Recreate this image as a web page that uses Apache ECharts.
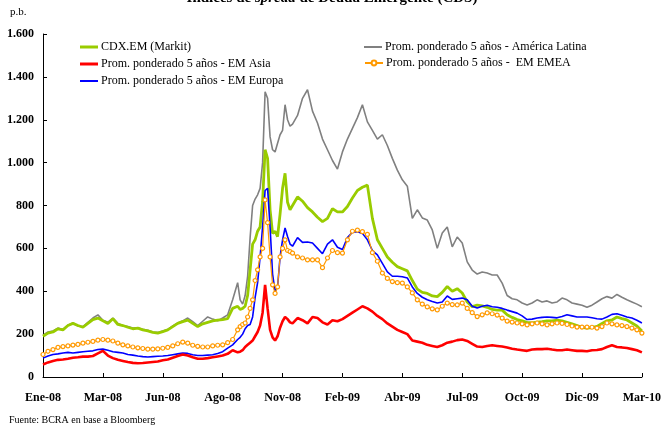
<!DOCTYPE html>
<html>
<head>
<meta charset="utf-8">
<script src="https://cdn.jsdelivr.net/npm/echarts@6/dist/echarts.min.js"></script>
<style>
  html, body { margin: 0; padding: 0; background: #fff; }
  #chart { width: 664px; height: 427px; }
</style>
</head>
<body>
<div id="chart"></div>
<script>
// etiquetas del eje X (una cada 12 posiciones)
const X_LABELS = ['Ene-08', 'Mar-08', 'Jun-08', 'Ago-08', 'Nov-08', 'Feb-09', 'Abr-09', 'Jul-09', 'Oct-09', 'Dic-09', 'Mar-10'];

// posiciones de muestreo (más densas durante el pico de oct-08)
const T = [
  0, 1, 2, 3, 4, 5, 6, 7, 8, 9, 10, 11, 12, 13, 14, 15, 16, 17, 18, 19,
  20, 21, 22, 23, 24, 25, 26, 27, 28, 29, 30, 31, 32, 33, 34, 35, 36, 37, 38, 39,
  39.5, 40, 40.5, 41, 41.5, 42, 42.5, 43, 43.5, 44, 44.5, 45, 45.5, 46, 46.5, 47, 47.5, 48, 48.5, 49, 49.5, 50,
  51, 52, 53, 54, 55, 56, 57, 58, 59, 60, 61, 62, 63, 64, 65, 66, 67, 68, 69, 70,
  71, 72, 73, 74, 75, 76, 77, 78, 79, 80, 81, 82, 83, 84, 85, 86, 87, 88, 89, 90,
  91, 92, 93, 94, 95, 96, 97, 98, 99, 100, 101, 102, 103, 104, 105, 106, 107, 108, 109, 110,
  111, 112, 113, 114, 115, 116, 117, 118, 119, 120
];

const CDX_EM = [
  190, 205, 210, 225, 220, 240, 250, 240, 232, 250, 268, 275, 262, 250, 272, 245, 240, 232, 225, 228,
  220, 215, 208, 205, 212, 220, 235, 250, 258, 265, 250, 235, 248, 255, 262, 265, 268, 272, 320, 330,
  315, 320, 330, 380, 500, 620, 640, 680, 700, 820, 1060, 1020, 780, 670, 680, 655, 760, 880, 950, 815, 780, 800,
  840, 820, 790, 770, 745, 725, 740, 785, 770, 770, 795, 835, 870, 885, 895, 740, 640, 600, 560, 535,
  515, 505, 495, 450, 410, 395, 390, 378, 375, 395, 422, 400, 412, 392, 350, 328, 335, 332, 325, 315,
  312, 312, 290, 278, 268, 262, 255, 252, 256, 258, 262, 262, 265, 262, 255, 248, 240, 232, 228, 230,
  236, 250, 262, 266, 280, 272, 266, 252, 238, 215
];

const AMERICA_LATINA = [
  195, 210, 215, 228, 222, 242, 252, 238, 235, 255, 275, 290, 265, 255, 275, 250, 240, 235, 228, 230,
  222, 218, 210, 208, 215, 222, 238, 252, 262, 275, 258, 240, 260, 280, 270, 262, 275, 290, 360, 440,
  360, 340, 380, 470, 650, 800, 830, 850, 880, 1000, 1330, 1300, 1120, 1060, 1050, 1090, 1130, 1150, 1270, 1200, 1170, 1180,
  1220, 1300, 1340, 1240, 1185, 1110, 1060, 1010, 970, 1050, 1110, 1160, 1210, 1270, 1190, 1150, 1110, 1130, 1080, 1020,
  965, 920, 890, 740, 780, 742, 732, 686, 600, 672, 700, 607, 653, 625, 537, 499, 480, 490, 485, 476,
  476, 438, 380, 365, 360, 345, 336, 345, 360, 350, 355, 345, 350, 368, 360, 345, 340, 335, 325, 335,
  350, 365, 375, 368, 385, 372, 360, 350, 340, 328
];

const EM_ASIA = [
  58, 68, 75, 80, 82, 85, 90, 92, 95, 95, 98, 110, 122, 100, 88, 80, 75, 70, 66, 64,
  65, 68, 70, 72, 78, 82, 90, 98, 105, 100, 92, 85, 85, 88, 92, 96, 100, 108, 125, 115,
  118, 125, 140, 150, 160, 170, 190, 210, 240, 300, 430, 320, 220, 185, 170, 190, 230, 260, 280, 270, 255, 250,
  275, 265, 250, 280, 275, 255, 245, 265, 260, 270, 285, 300, 315, 330, 320, 305, 285, 270, 250, 235,
  220, 210, 200, 170, 165, 160, 150, 145, 140, 148, 160, 165, 172, 175, 168, 155, 142, 140, 145, 148,
  145, 142, 138, 132, 128, 125, 122, 128, 130, 130, 132, 128, 125, 125, 128, 125, 122, 122, 120, 125,
  126, 130, 140, 148, 140, 138, 135, 130, 125, 115
];

const EM_EMEA = [
  105, 120, 128, 138, 142, 145, 149, 152, 158, 162, 166, 172, 175, 172, 168, 158, 150, 145, 140, 136,
  133, 130, 130, 131, 134, 138, 145, 155, 163, 158, 148, 143, 140, 140, 145, 148, 150, 160, 175, 220,
  235, 245, 252, 280, 320, 360, 450, 500, 560, 600, 826, 720, 560, 430, 390, 420, 560, 600, 640, 590, 585, 578,
  560, 555, 546, 546, 546, 510, 555, 590, 580, 578, 640, 680, 685, 678, 665, 580, 540, 485, 460, 445,
  440, 438, 420, 392, 360, 340, 327, 318, 313, 330, 345, 338, 336, 345, 320, 300, 282, 290, 299, 295,
  289, 275, 261, 256, 252, 248, 243, 248, 252, 248, 243, 248, 252, 250, 245, 238, 233, 233, 233, 232,
  228, 235, 252, 248, 243, 240, 235, 228, 220, 205
];

const EM_EUROPA = [
  88, 98, 105, 108, 112, 115, 112, 115, 118, 120, 122, 128, 130, 125, 118, 115, 112, 105, 102, 98,
  95, 93, 95, 97, 98, 100, 104, 108, 112, 110, 104, 100, 100, 102, 104, 110, 118, 135, 150, 175,
  185, 200, 225, 240, 245, 280, 370, 440, 560, 700, 870, 880, 700, 480, 400, 420, 560, 640, 695, 655, 620, 610,
  650, 628, 630, 625, 600, 575, 620, 640, 605, 595, 650, 675, 678, 670, 640, 590, 570, 530, 490, 470,
  470, 468, 462, 420, 390, 372, 360, 352, 345, 350, 378, 362, 365, 368, 360, 330, 322, 330, 335, 328,
  325, 320, 312, 305, 298, 285, 268, 270, 275, 278, 280, 278, 276, 282, 290, 285, 280, 280, 280, 276,
  272, 270, 280, 292, 295, 288, 280, 275, 265, 252
];

const NAMES = {
  cdx: 'CDX.EM (Markit)',
  latam: 'Prom. ponderado 5 años - América Latina',
  asia: 'Prom. ponderado 5 años - EM Asia',
  emea: 'Prom. ponderado 5 años -  EM EMEA',
  europa: 'Prom. ponderado 5 años - EM Europa'
};

const FONT = '"Liberation Serif", "DejaVu Serif", serif';

function pairs(vals) {
  return vals.map((v, k) => [T[k], v]);
}

function fmtMiles(v) {
  return String(v).replace(/\B(?=(\d{3})+(?!\d))/g, '.');
}

const chart = echarts.init(document.getElementById('chart'));

// leyenda: una caja por entrada; icono rect fino = línea simple
function legendAt(name, left, top, h, plain) {
  return {
    data: [name], left: left, top: top,
    orient: 'horizontal',
    icon: plain ? 'rect' : undefined,
    itemWidth: 18,
    itemHeight: h,
    padding: 0,
    textStyle: { fontFamily: FONT, fontSize: 12, color: '#000', padding: [0, 0, 0, -2] }
  };
}

chart.setOption({
  animation: false,
  backgroundColor: '#fff',
  title: {
    text: '{b|Índices de }{i|spread}{b| de Deuda Emergente (CDS)}',
    left: 'center',
    top: -9,
    padding: 0,
    textStyle: {
      rich: {
        b: { fontFamily: FONT, fontSize: 15, fontWeight: 'bold', color: '#000' },
        i: { fontFamily: FONT, fontSize: 15, fontWeight: 'bold', fontStyle: 'italic', color: '#000' }
      }
    }
  },
  graphic: [
    { type: 'text', left: 10, top: 7, style: { text: 'p.b.', font: '11px ' + FONT, fill: '#000' } },
    { type: 'text', left: 9, top: 415, style: { text: 'Fuente: BCRA en base a Bloomberg', font: '10px ' + FONT, fill: '#000' } }
  ],
  legend: [
    legendAt(NAMES.cdx, 80, 41, 3, true),
    legendAt(NAMES.asia, 80, 58, 3, true),
    legendAt(NAMES.europa, 80, 75, 2, true),
    legendAt(NAMES.latam, 364, 41, 2, true),
    legendAt(NAMES.emea, 364, 57, 6, false)
  ],
  grid: { left: 43, right: 17, top: 34, bottom: 50, containLabel: false },
  xAxis: {
    type: 'value',
    min: 0,
    max: 120,
    interval: 12,
    axisLine: { lineStyle: { color: '#000', width: 1 } },
    axisTick: { inside: true, length: 4, lineStyle: { color: '#000' } },
    splitLine: { show: false },
    axisLabel: {
      margin: 15,
      fontFamily: FONT,
      fontSize: 12,
      fontWeight: 'bold',
      color: '#000',
      formatter: v => X_LABELS[Math.round(v / 12)] || ''
    }
  },
  yAxis: {
    type: 'value',
    min: 0,
    max: 1600,
    interval: 200,
    axisLine: { show: true, lineStyle: { color: '#000', width: 1 } },
    axisTick: { show: true, inside: true, length: 4, lineStyle: { color: '#000' } },
    splitLine: { show: false },
    axisLabel: {
      margin: 9,
      fontFamily: FONT,
      fontSize: 12,
      fontWeight: 'bold',
      color: '#000',
      formatter: v => fmtMiles(v)
    }
  },
  series: [
    {
      name: NAMES.latam, type: 'line', data: pairs(AMERICA_LATINA), symbol: 'none',
      lineStyle: { color: '#808080', width: 1.6 }, itemStyle: { color: '#808080' }
    },
    {
      name: NAMES.cdx, type: 'line', data: pairs(CDX_EM), symbol: 'none',
      lineStyle: { color: '#99cc00', width: 2.8 }, itemStyle: { color: '#99cc00' }
    },
    {
      name: NAMES.europa, type: 'line', data: pairs(EM_EUROPA), symbol: 'none',
      lineStyle: { color: '#0000ff', width: 1.6 }, itemStyle: { color: '#0000ff' }
    },
    {
      name: NAMES.emea, type: 'line', data: pairs(EM_EMEA),
      symbol: 'circle', symbolSize: 4, showSymbol: true,
      lineStyle: { color: '#ff9900', width: 1.2 },
      itemStyle: { color: '#ffffff', borderColor: '#ff9900', borderWidth: 1.2 }
    },
    {
      name: NAMES.asia, type: 'line', data: pairs(EM_ASIA), symbol: 'none',
      lineStyle: { color: '#ff0000', width: 2.6 }, itemStyle: { color: '#ff0000' }
    }
  ]
});
</script>
</body>
</html>
